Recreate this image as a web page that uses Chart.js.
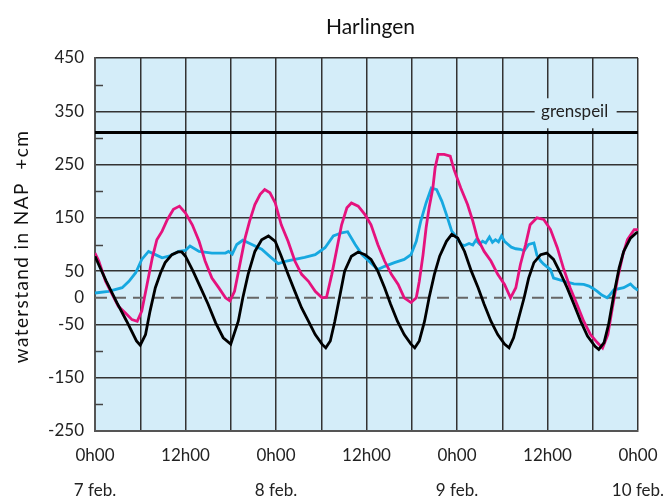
<!DOCTYPE html>
<html>
<head>
<meta charset="utf-8">
<script src="https://cdn.jsdelivr.net/npm/chart.js@4/dist/chart.umd.min.js"></script>
<style>
  html, body { margin: 0; padding: 0; background: #ffffff; }
  #wrap { width: 665px; height: 502px; }
</style>
</head>
<body>
<div id="wrap"><canvas id="c" width="665" height="502"></canvas></div>
<script>
// ---- data (hours since 0h00 7 feb, waterstand in cm +NAP) ----
const title = "Harlingen";
const yTitle = "waterstand in NAP  +cm";
const majorYTicks = [450, 350, 250, 150, 50, 0, -50, -150, -250];
const minorYTicks = [400, 300, 200, 100, -100, -200];
const dayLabels = ["7 feb.", "8 feb.", "9 feb.", "10 feb."];
const grenspeil = 310;
const grenspeilLabel = "grenspeil";

const blackHours = [0,0.5,1.5,2.9,4.2,5.5,6,6.7,7.3,8,8.7,9.3,10.2,11,11.5,12,13,14,15,16,17,18,19,19.6,20.3,21.2,22.1,23,23.9,24.7,25.6,26.5,27.4,28.3,29.2,30.1,30.6,31.2,31.8,32.5,33.1,34,34.9,35.8,36.6,37.5,38.4,39.2,40.1,41,41.9,42.4,43,43.7,44.3,45,45.7,46.6,47.3,48.1,49,49.9,50.8,51.6,52.5,53.4,54.3,54.9,55.5,56.2,56.9,57.5,58.2,59.1,59.9,60.8,61.7,62.6,63.5,64.4,65.3,66.3,66.8,67.5,68.1,68.8,69.5,70.1,71,71.8,72];
const blackValues = [78,62,31,-9,-44,-81,-89,-69,-25,19,47,66,81,86,86,78,50,19,-12,-47,-75,-87,-44,0,44,87,109,116,106,78,44,12,-19,-44,-69,-87,-94,-81,-44,6,50,78,86,81,72,50,19,-12,-44,-69,-87,-94,-81,-44,0,44,78,106,119,112,87,50,19,-12,-44,-69,-87,-94,-75,-37,0,37,66,81,84,72,47,19,-12,-44,-72,-91,-97,-84,-50,6,56,87,112,122,123];

const magentaHours = [0,0.5,1.4,2.3,3.1,4,4.9,5.6,6.2,6.9,7.6,8.2,8.9,9.6,10.4,11.2,12,12.9,13.8,14.6,15.5,16.4,17.3,17.9,18.5,19.2,19.9,20.5,21.2,21.9,22.5,23.2,23.9,24.7,25.6,26.5,27.4,28.3,29.2,30.1,30.7,31.4,32.1,32.7,33.4,34,34.9,35.8,36.6,37.5,38.4,39.3,40.2,41,41.9,42.6,43,43.5,43.9,44.3,44.8,45.1,45.5,46.3,47.1,47.6,48.5,49.4,50.1,50.7,51.6,52.5,53.4,54.3,55.1,55.8,56.4,57.1,57.7,58.6,59.5,60.4,61.3,62.1,63,63.9,64.8,65.7,66.6,67.3,68,68.6,69.3,70,70.6,71.5,72];
const magentaValues = [84,69,31,6,-16,-28,-41,-44,-25,25,75,109,125,147,166,172,159,137,106,69,37,19,0,-6,12,62,112,144,175,194,203,197,178,137,106,69,44,31,12,0,1,44,94,137,169,178,172,156,137,100,69,44,25,0,-9,0,31,81,131,169,206,244,269,269,266,241,206,175,144,112,87,69,44,25,0,19,62,100,137,150,147,128,94,56,19,-12,-44,-69,-84,-94,-69,-19,37,81,109,128,128];

const cyanHours = [0,1.8,3.6,4.5,5.4,6.2,7.1,8,8.9,9.8,11.1,12,12.6,13.8,15.5,17.3,17.7,18.2,18.8,19.6,20.8,22.1,23.4,24.3,25.4,26.5,27.8,29.2,30.5,31.6,32.7,33.5,34.5,35.4,36.3,37.5,38.4,39.7,41,41.9,42.6,43.2,43.9,44.6,45.3,46,46.6,47.3,47.6,48,48.6,49,49.6,50.1,50.5,51,51.4,51.8,52.3,52.7,53.1,53.5,53.9,54.3,54.7,55.2,55.8,56.4,56.9,57.5,58.2,58.6,59.1,59.5,60.4,60.8,61.3,62.2,63.5,64.8,65.5,66.1,66.6,67.2,67.9,68.3,68.8,70.1,71,71.5,72];
const cyanValues = [9,12,19,31,47,72,87,81,75,78,87,89,97,87,84,84,87,82,100,108,100,91,75,64,69,72,76,81,94,116,122,124,100,81,69,53,59,66,72,81,106,144,178,206,203,181,156,125,120,112,100,98,102,99,108,101,106,103,114,104,109,105,116,106,101,95,92,91,88,100,103,80,69,63,53,37,35,31,26,25,22,17,12,5,0,6,15,19,26,19,14,7];

const zeroLine = [0, 0];
const grenspeilLine = [grenspeil, grenspeil];
const spanHours = [0, 72];

const FONT = "Lato, 'Open Sans', sans-serif";
const PLOT_BG = "#d4edf9";

const toXY = (hs, vs) => hs.map((h, i) => ({ x: h, y: vs[i] }));

const chartBg = {
  id: "chartBg",
  beforeDraw(chart) {
    const { ctx, chartArea: a } = chart;
    ctx.save();
    ctx.fillStyle = PLOT_BG;
    ctx.fillRect(a.left, a.top, a.right - a.left, a.bottom - a.top);
    ctx.restore();
  }
};

const extras = {
  id: "extras",
  beforeDatasetsDraw(chart) {
    const { ctx, chartArea: a, scales } = chart;
    const ys = scales.y, xs = scales.x;
    ctx.save();
    // minor ticks on the left, inside the plot
    ctx.strokeStyle = "#444";
    ctx.lineWidth = 1.5;
    minorYTicks.forEach(v => {
      const y = Math.round(ys.getPixelForValue(v)) + 0.5;
      ctx.beginPath();
      ctx.moveTo(a.left, y);
      ctx.lineTo(a.left + 8, y);
      ctx.stroke();
    });
    // grenspeil label box
    const ly = ys.getPixelForValue(350);
    const lx = xs.getPixelForValue(63.6);
    ctx.fillStyle = PLOT_BG;
    ctx.fillRect(lx - 40, ly - 13, 82, 30);
    ctx.fillStyle = "#222";
    ctx.font = "17px " + FONT;
    ctx.textAlign = "center";
    ctx.textBaseline = "middle";
    ctx.fillText(grenspeilLabel, lx, ly);
    ctx.restore();
  },
  afterDraw(chart) {
    const { ctx, chartArea: a } = chart;
    ctx.save();
    ctx.fillStyle = "#111";
    ctx.font = "21px " + FONT;
    ctx.textAlign = "center";
    ctx.textBaseline = "alphabetic";
    ctx.fillText(title, (a.left + a.right) / 2 + 4, 34);
    // y axis title
    ctx.translate(22, (a.top + a.bottom) / 2 + 2);
    ctx.rotate(-Math.PI / 2);
    ctx.font = "19px " + FONT;
    if ("letterSpacing" in ctx) ctx.letterSpacing = "1.4px";
    ctx.textBaseline = "middle";
    ctx.fillText(yTitle, 0, 0);
    ctx.restore();
  }
};

new Chart(document.getElementById("c"), {
  type: "line",
  data: {
    datasets: [
      { data: toXY(blackHours, blackValues), borderColor: "#000000", borderWidth: 2.8, order: 1 },
      { data: toXY(magentaHours, magentaValues), borderColor: "#e5127d", borderWidth: 2.8, order: 2 },
      { data: toXY(cyanHours, cyanValues), borderColor: "#16a8e0", borderWidth: 2.8, order: 3 },
      { data: toXY(spanHours, grenspeilLine), borderColor: "#000000", borderWidth: 3, order: 4 },
      { data: toXY(spanHours, zeroLine), borderColor: "#666666", borderWidth: 2, borderDash: [12, 7], order: 5 }
    ]
  },
  options: {
    responsive: false,
    animation: false,
    events: [],
    elements: { point: { radius: 0 }, line: { tension: 0 } },
    layout: { padding: { top: 58, right: 27, left: 0, bottom: 0 } },
    plugins: { legend: { display: false }, tooltip: { enabled: false }, title: { display: false } },
    scales: {
      x: {
        type: "linear",
        min: 0, max: 72,
        afterFit(s) { s.height = 71; s.paddingRight = 0; s.paddingLeft = 0; },
        border: { display: true, color: "#555", width: 2 },
        grid: { color: "#333", lineWidth: 1.5, drawTicks: false },
        ticks: {
          stepSize: 6,
          autoSkip: false,
          maxRotation: 0, minRotation: 0,
          padding: 7,
          color: "#222",
          font: { family: FONT, size: 17, lineHeight: 2.05 },
          callback(v) {
            if (v % 24 === 0) return ["0h00", dayLabels[v / 24]];
            if (v % 12 === 0) return "12h00";
            return "";
          }
        }
      },
      y: {
        min: -250, max: 450,
        afterFit(s) { s.width = 95; s.paddingTop = 0; s.paddingBottom = 0; },
        border: { display: true, color: "#555", width: 2 },
        grid: {
          drawTicks: false,
          lineWidth: 1.5,
          color(ctx) {
            const v = ctx.tick && ctx.tick.value;
            if (v === 0) return "rgba(0,0,0,0)";
            return majorYTicks.includes(v) ? "#333" : "rgba(0,0,0,0)";
          }
        },
        ticks: {
          stepSize: 50,
          autoSkip: false,
          padding: 11,
          color: "#222",
          font: { family: FONT, size: 17 },
          callback(v) { return majorYTicks.includes(v) ? String(v) : ""; }
        }
      }
    }
  },
  plugins: [chartBg, extras]
});
</script>
</body>
</html>
